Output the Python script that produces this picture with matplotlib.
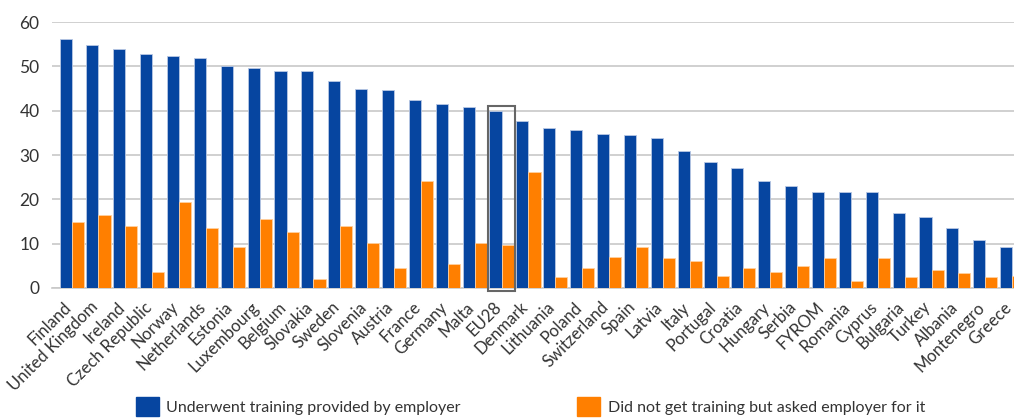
import numpy as np
import matplotlib
matplotlib.use("Agg")
import matplotlib.pyplot as plt
import matplotlib.transforms as mtransforms
from matplotlib.patches import Rectangle, Patch

plt.rcParams['font.family'] = ['Lato', 'DejaVu Sans']

countries = ["Finland", "United Kingdom", "Ireland", "Czech Republic", "Norway",
             "Netherlands", "Estonia", "Luxembourg", "Belgium", "Slovakia",
             "Sweden", "Slovenia", "Austria", "France", "Germany", "Malta",
             "EU28", "Denmark", "Lithuania", "Poland", "Switzerland", "Spain",
             "Latvia", "Italy", "Portugal", "Croatia", "Hungary", "Serbia",
             "FYROM", "Romania", "Cyprus", "Bulgaria", "Turkey", "Albania",
             "Montenegro", "Greece"]

trained = [56.1, 54.8, 53.9, 52.7, 52.3, 51.9, 50.1, 49.7, 48.9, 48.9,
           46.8, 45.0, 44.6, 42.5, 41.6, 40.8, 39.9, 37.7, 36.1, 35.6,
           34.8, 34.4, 33.9, 31.0, 28.4, 27.1, 24.1, 22.9, 21.6, 21.6,
           21.6, 16.9, 16.0, 13.5, 10.9, 9.2]

asked = [14.8, 16.5, 13.9, 3.7, 19.5, 13.5, 9.2, 15.6, 12.6, 2.0,
         13.9, 10.1, 4.6, 24.1, 5.4, 10.1, 9.6, 26.2, 2.5, 4.6,
         7.1, 9.2, 6.7, 6.2, 2.8, 4.6, 3.7, 5.0, 6.7, 1.5,
         6.7, 2.5, 4.1, 3.3, 2.5, 2.8]

blue = '#0645a0'
orange = '#ff7f00'

fig = plt.figure(figsize=(10.14, 4.19), dpi=100)
ax = fig.add_axes([52/1014, 1-288/419, 1-52/1014, (288-22)/419])

x = np.arange(len(countries))
w = 0.45
ax.bar(x - w/2, trained, w, color=blue, edgecolor='#b8c8e4', linewidth=0.6, zorder=3)
ax.bar(x + w/2, asked, w, color=orange, edgecolor='#ffd0a0', linewidth=0.6, zorder=3)

ax.set_ylim(0, 60)
ax.set_xlim(-0.73, 35.07)
ax.set_yticks(range(0, 61, 10))
ax.yaxis.grid(True, color='#c8c8c8', linewidth=1.2, zorder=0)
ax.tick_params(axis='y', length=0, pad=9, labelsize=12.5, labelcolor='#333333')
ax.tick_params(axis='x', length=0, pad=12)
for s in ['top', 'right', 'left']:
    ax.spines[s].set_visible(False)
ax.spines['bottom'].set_color('#c8c8c8')
ax.spines['bottom'].set_linewidth(1.2)

ax.set_xticks(x)
ax.set_xticklabels(countries, rotation=45, ha='right', va='center',
                   rotation_mode='anchor', fontsize=12, color='#333333')
shift = mtransforms.ScaledTranslation(-3/100, 0, fig.dpi_scale_trans)
for lab in ax.get_xticklabels():
    lab.set_transform(lab.get_transform() + shift)

i = countries.index("EU28")
ax.add_patch(Rectangle((i - 0.5, -0.7), 1.0, trained[i] + 1.8, fill=False,
                       edgecolor='#666666', linewidth=1.5, clip_on=False, zorder=4))

handles = [Patch(color=blue, label='Underwent training provided by employer'),
           Patch(color=orange, label='Did not get training but asked employer for it')]
fig.legend(handles=handles, loc='lower center', ncol=2, frameon=False,
           bbox_to_anchor=(0.523, -0.027), fontsize=11.5, handlelength=1.45,
           handleheight=1.45, handletextpad=0.45, columnspacing=7.3,
           labelcolor='#333333')

fig.savefig('out.png', dpi=100)
